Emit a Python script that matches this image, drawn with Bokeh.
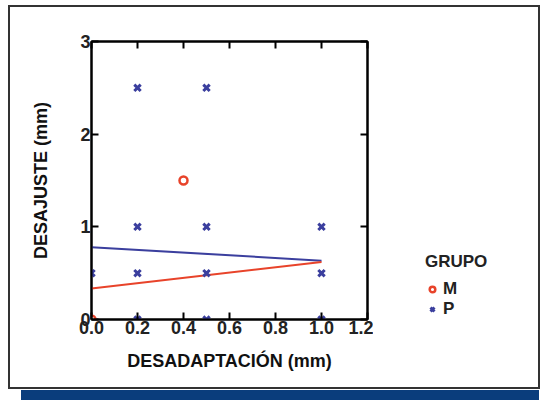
from bokeh.plotting import figure
from bokeh.models import Legend, LegendItem, LinearAxis, FixedTicker, Div, Range1d
from bokeh.layouts import column, row
from bokeh.embed import file_html
from bokeh.resources import INLINE

# data
m_x = [0.4, 0.0]
m_y = [1.5, 0.0]
p_x = [0.2, 0.5, 0.2, 0.5, 1.0, 0.0, 0.2, 0.5, 1.0, 0.2, 0.5, 1.0]
p_y = [2.5, 2.5, 1.0, 1.0, 1.0, 0.5, 0.5, 0.5, 0.5, 0.0, 0.0, 0.0]
fit_x = [0.0, 1.0]
fit_m = [0.335, 0.62]
fit_p = [0.78, 0.635]
x_ticks = [0.0, 0.2, 0.4, 0.6, 0.8, 1.0, 1.2]
y_ticks = [0, 1, 2, 3]
groups = ["M", "P"]

RED = "#e8432a"
BLUE = "#3b3f9e"
FONT = "Liberation Sans"

p = figure(frame_width=276, frame_height=278, output_backend="svg", toolbar_location=None,
           x_range=Range1d(0, 1.2), y_range=Range1d(0, 3),
           min_border_left=81, min_border_right=6, min_border_top=34, min_border_bottom=68,
           x_axis_label="DESADAPTACIÓN (mm)", y_axis_label="DESAJUSTE (mm)")
p.grid.visible = False
p.outline_line_color = "black"
p.outline_line_width = 2

for ax in (p.xaxis[0], p.yaxis[0]):
    ax.axis_line_width = 2
    ax.major_tick_line_width = 2
    ax.major_tick_in = 7
    ax.major_tick_out = 0
    ax.minor_tick_line_color = None
    ax.major_label_text_font = FONT
    ax.major_label_text_font_style = "bold"
    ax.major_label_text_font_size = "18px"
    ax.major_label_text_color = "#222"
    ax.axis_label_text_font = FONT
    ax.axis_label_text_font_style = "bold"
    ax.axis_label_text_font_size = "18px"
    ax.axis_label_text_color = "#111"
    ax.major_label_standoff = 1

p.xaxis[0].ticker = FixedTicker(ticks=x_ticks)
p.xaxis[0].major_label_overrides = {t: f"{t:.1f}" for t in x_ticks}
p.xaxis[0].axis_label_standoff = 14
p.yaxis[0].ticker = FixedTicker(ticks=y_ticks)
p.yaxis[0].axis_label_standoff = 26

top = LinearAxis(ticker=FixedTicker(ticks=x_ticks), major_label_text_font_size="0px",
                 major_tick_in=7, major_tick_out=0, major_tick_line_width=2,
                 axis_line_width=2, minor_tick_line_color=None)
right = LinearAxis(ticker=FixedTicker(ticks=y_ticks), major_label_text_font_size="0px",
                   major_tick_in=7, major_tick_out=0, major_tick_line_width=2,
                   axis_line_width=2, minor_tick_line_color=None, major_label_standoff=0)
p.add_layout(top, "above")
p.add_layout(right, "right")

p.line(fit_x, fit_p, line_color=BLUE, line_width=2)
p.line(fit_x, fit_m, line_color=RED, line_width=2)
rp = p.scatter(p_x, p_y, marker="x", size=9, line_color=BLUE, line_width=3)
rm = p.scatter(m_x, m_y, marker="circle", size=8, line_color=RED, fill_color="white", line_width=2.5)

# legend panel: key glyphs share the data but lie outside this panel's view
q = figure(width=165, height=380, output_backend="svg", toolbar_location=None,
           x_axis_location=None, y_axis_location=None, min_border=0,
           x_range=Range1d(10, 11), y_range=Range1d(10, 11))
q.grid.visible = False
q.outline_line_color = None
km = q.scatter(m_x, m_y, marker="circle", size=8, line_color=RED, fill_color="white", line_width=2.5)
kp = q.scatter(p_x, p_y, marker="x", size=9, line_color=BLUE, line_width=3)

legend = Legend(items=[LegendItem(label=groups[0], renderers=[km]),
                       LegendItem(label=groups[1], renderers=[kp])],
                location=(52, 0), title="GRUPO", orientation="vertical")
legend.title_text_font = FONT
legend.title_text_font_style = "bold"
legend.title_text_font_size = "17px"
legend.title_text_color = "#222"
legend.title_standoff = 7
legend.label_text_font = FONT
legend.label_text_font_style = "bold"
legend.label_text_font_size = "17px"
legend.label_text_color = "#222"
legend.border_line_alpha = 0
legend.background_fill_alpha = 0
legend.padding = 0
legend.margin = 0
legend.spacing = 0
legend.glyph_width = 14
legend.glyph_height = 18
legend.label_height = 18
legend.label_standoff = 4
q.add_layout(legend, "center")

box = row(p, q, spacing=0)
box.styles = {"border": "2px solid #333"}
box.margin = (5, 0, 0, 8)

band = Div(text="", width=518, height=10, styles={"background-color": "#0a3d7c"})
band.margin = (1, 0, 0, 21)
layout = column(box, band, spacing=0)

open("out.html", "w").write(file_html(layout, INLINE))
